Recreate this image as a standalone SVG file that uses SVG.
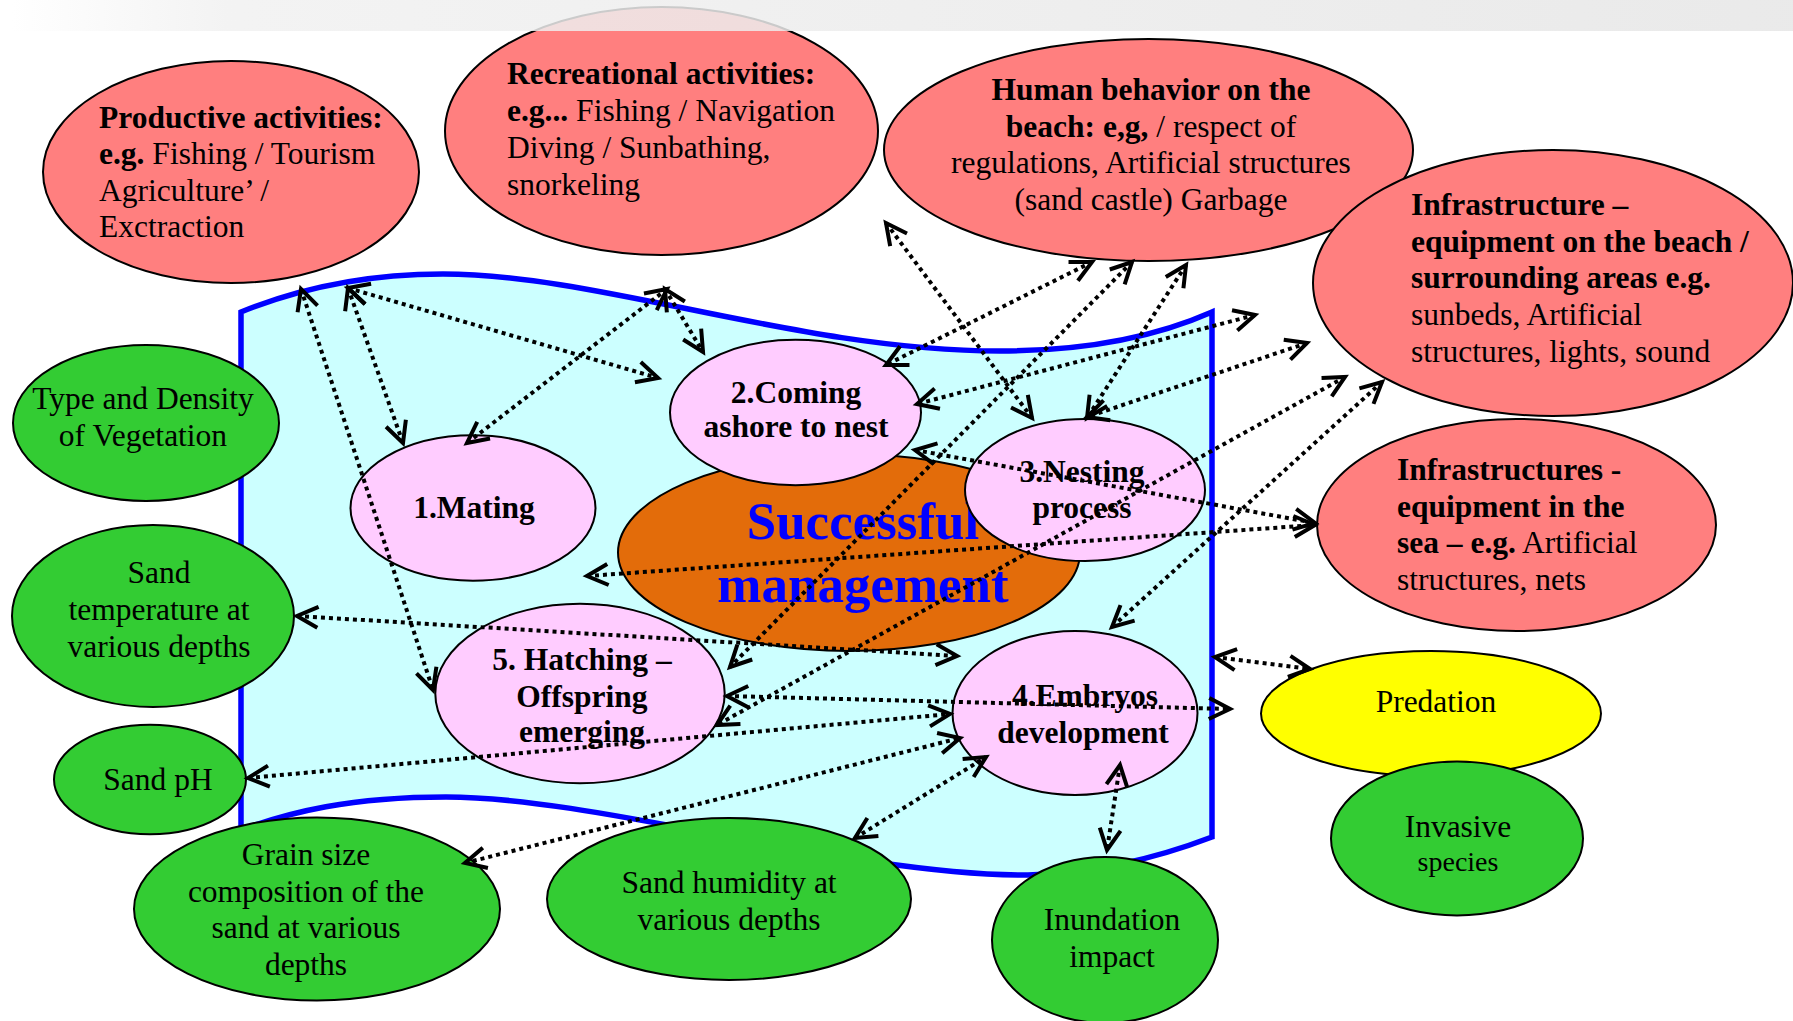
<svg xmlns="http://www.w3.org/2000/svg" width="1793" height="1021" viewBox="0 0 1793 1021">
<defs>
<style>
.t{font-family:"Liberation Serif","Times New Roman",serif;font-size:31.5px;fill:#000}
.b{font-weight:bold}
.m{text-anchor:middle}
.red{fill:#ff7f7f;stroke:#000;stroke-width:2}
.grn{fill:#33cc33;stroke:#000;stroke-width:2}
.pnk{fill:#ffccff;stroke:#000;stroke-width:2}
.c line{stroke:#000;stroke-width:4;stroke-dasharray:4 4;fill:none;marker-start:url(#ah);marker-end:url(#ah)}
</style>
<marker id="ah" viewBox="-28 -16 32 32" refX="0" refY="0" markerWidth="32" markerHeight="32" markerUnits="userSpaceOnUse" orient="auto-start-reverse" overflow="visible">
<path d="M-21,-10.5 L0,0 L-21,10.5" fill="none" stroke="#000" stroke-width="4" stroke-dasharray="none"/>
</marker>
<linearGradient id="band" x1="0" y1="0" x2="1" y2="0">
<stop offset="0" stop-color="#ffffff"/>
<stop offset="0.12" stop-color="#f1f1f1"/>
<stop offset="1" stop-color="#e6e6e6"/>
</linearGradient>
</defs>
<rect width="1793" height="1021" fill="#ffffff"/>

<g id="beach-area">
<path d="M241,312 C300,288 370,274 443,274 C600,274 800,351 1000,351 C1090,351 1160,335 1212,312 L1212,837 C1165,855 1100,873 1028,875 C850,876 600,797 446,797 C350,797 290,812 241,830 Z" fill="#ccffff" stroke="#0000ff" stroke-width="5.5" stroke-linejoin="miter"/>
</g>

<g id="successful-management">
<ellipse cx="849" cy="552.5" rx="231" ry="98.5" fill="#e36c0a" stroke="#000" stroke-width="2"/>
<text class="t b m" style="font-size:53px;fill:#0000ff" x="863"><tspan x="863" y="539">Successful</tspan><tspan x="863" y="602">management</tspan></text>
</g>

<g id="mating">
<ellipse cx="473" cy="508" rx="122.5" ry="72.7" class="pnk"/>
<text class="t b m" x="474" y="518">1.Mating</text>
</g>

<g id="coming-ashore">
<ellipse cx="795.5" cy="412.5" rx="125.5" ry="72.7" class="pnk"/>
<text class="t b m"><tspan x="796" y="403">2.Coming</tspan><tspan x="796" y="437">ashore to nest</tspan></text>
</g>

<g id="nesting">
<ellipse cx="1085" cy="490" rx="120" ry="71" class="pnk"/>
<text class="t b m"><tspan x="1082" y="482">3.Nesting</tspan><tspan x="1082" y="518">process</tspan></text>
</g>

<g id="embryos">
<ellipse cx="1075" cy="713" rx="122.5" ry="82" class="pnk"/>
<text class="t b m"><tspan x="1085" y="706">4.Embryos</tspan><tspan x="1083" y="743">development</tspan></text>
</g>

<g id="hatching">
<ellipse cx="580" cy="693.5" rx="144.7" ry="89.7" class="pnk"/>
<text class="t b m"><tspan x="582" y="670">5. Hatching –</tspan><tspan x="582" y="707">Offspring</tspan><tspan x="582" y="742">emerging</tspan></text>
</g>

<g id="vegetation">
<ellipse cx="146" cy="423" rx="133" ry="78" class="grn"/>
<text class="t m"><tspan x="143" y="409">Type and Density</tspan><tspan x="143" y="446">of Vegetation</tspan></text>
</g>

<g id="sand-temperature">
<ellipse cx="153" cy="616" rx="141" ry="91" class="grn"/>
<text class="t m"><tspan x="159" y="583">Sand</tspan><tspan x="159" y="620">temperature at</tspan><tspan x="159" y="657">various depths</tspan></text>
</g>

<g id="sand-ph">
<ellipse cx="150" cy="779.5" rx="96" ry="54.7" class="grn"/>
<text class="t m" x="158" y="790">Sand pH</text>
</g>

<g id="grain-size">
<ellipse cx="317" cy="909" rx="183" ry="91.5" class="grn"/>
<text class="t m"><tspan x="306" y="865">Grain size</tspan><tspan x="306" y="902">composition of the</tspan><tspan x="306" y="938">sand at various</tspan><tspan x="306" y="975">depths</tspan></text>
</g>

<g id="sand-humidity">
<ellipse cx="729" cy="899" rx="182" ry="81" class="grn"/>
<text class="t m"><tspan x="729" y="893">Sand humidity at</tspan><tspan x="729" y="930">various depths</tspan></text>
</g>

<g id="inundation">
<ellipse cx="1105" cy="940" rx="113" ry="83" class="grn"/>
<text class="t m"><tspan x="1112" y="930">Inundation</tspan><tspan x="1112" y="967">impact</tspan></text>
</g>

<g id="productive-activities">
<ellipse cx="231" cy="172" rx="188" ry="111" class="red"/>
<text class="t"><tspan x="99" y="128" class="b">Productive activities:</tspan><tspan x="99" y="164"><tspan class="b">e.g.</tspan> Fishing / Tourism</tspan><tspan x="99" y="201">Agriculture’ /</tspan><tspan x="99" y="237">Exctraction</tspan></text>
</g>

<g id="recreational-activities">
<ellipse cx="661.5" cy="131" rx="216.5" ry="124" class="red"/>
<text class="t"><tspan x="507" y="84" class="b">Recreational activities:</tspan><tspan x="507" y="121"><tspan class="b">e.g...</tspan> Fishing / Navigation</tspan><tspan x="507" y="158">Diving / Sunbathing,</tspan><tspan x="507" y="195">snorkeling</tspan></text>
</g>

<g id="human-behavior">
<ellipse cx="1148.5" cy="150" rx="264.5" ry="111" class="red"/>
<text class="t m"><tspan x="1151" y="100" class="b">Human behavior on the</tspan><tspan x="1151" y="137"><tspan class="b">beach: e,g,</tspan> / respect of</tspan><tspan x="1151" y="173">regulations, Artificial structures</tspan><tspan x="1151" y="210">(sand castle) Garbage</tspan></text>
</g>

<g id="infrastructure-beach">
<ellipse cx="1553" cy="283" rx="240" ry="133" class="red"/>
<text class="t"><tspan x="1411" y="215" class="b">Infrastructure –</tspan><tspan x="1411" y="252" class="b">equipment on the beach /</tspan><tspan x="1411" y="288" class="b">surrounding areas e.g.</tspan><tspan x="1411" y="325">sunbeds, Artificial</tspan><tspan x="1411" y="362">structures, lights, sound</tspan></text>
</g>

<g id="infrastructure-sea">
<ellipse cx="1516.5" cy="525" rx="199.5" ry="106" class="red"/>
<text class="t"><tspan x="1397" y="480" class="b">Infrastructures -</tspan><tspan x="1397" y="517" class="b">equipment in the</tspan><tspan x="1397" y="553"><tspan class="b">sea – e.g.</tspan> Artificial</tspan><tspan x="1397" y="590">structures, nets</tspan></text>
</g>

<g id="predation">
<ellipse cx="1431" cy="713.5" rx="170" ry="62.5" fill="#ffff00" stroke="#000" stroke-width="2"/>
<text class="t m" x="1436" y="712">Predation</text>
</g>

<g id="invasive-species">
<ellipse cx="1457" cy="838.5" rx="126" ry="77" class="grn"/>
<text class="t m"><tspan x="1458" y="837">Invasive</tspan><tspan x="1458" y="871" style="font-size:28px">species</tspan></text>
</g>

<g id="connectors" class="c">
<line x1="301" y1="289" x2="433" y2="690"/>
<line x1="348" y1="288" x2="403" y2="443"/>
<line x1="348" y1="288" x2="658" y2="378"/>
<line x1="667" y1="289" x2="467" y2="443"/>
<line x1="665" y1="289" x2="703" y2="352"/>
<line x1="886" y1="223" x2="1032" y2="418"/>
<line x1="1092" y1="262" x2="886" y2="365"/>
<line x1="1132" y1="262" x2="730" y2="667"/>
<line x1="1186" y1="265" x2="1087" y2="418"/>
<line x1="1255" y1="315" x2="917" y2="404"/>
<line x1="1307" y1="343" x2="1087" y2="417"/>
<line x1="1345" y1="377" x2="717" y2="725"/>
<line x1="1382" y1="382" x2="1112" y2="627"/>
<line x1="915" y1="450" x2="1315" y2="523"/>
<line x1="587" y1="576" x2="1315" y2="525"/>
<line x1="297" y1="616" x2="957" y2="656"/>
<line x1="727" y1="696" x2="1230" y2="709"/>
<line x1="248" y1="778" x2="950" y2="714"/>
<line x1="465" y1="863" x2="960" y2="738"/>
<line x1="855" y1="838" x2="986" y2="757"/>
<line x1="1120" y1="765" x2="1107" y2="850"/>
<line x1="1215" y1="657" x2="1310" y2="669"/>
</g>

<rect id="top-band" x="12" y="0" width="1781" height="31" fill="url(#band)" fill-opacity="0.85"/>
</svg>
